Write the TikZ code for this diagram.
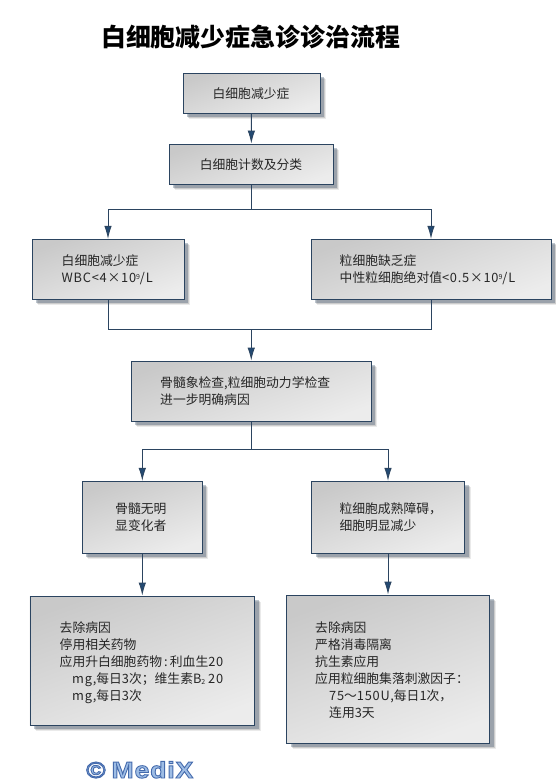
\documentclass[tikz,border=0pt]{standalone}
\usepackage{fontspec}
\setmainfont{Noto Sans CJK SC}
\newfontfamily\latinf[LetterSpace=4,FakeStretch=1.15]{Liberation Sans}
\newfontfamily\ltnf[LetterSpace=6]{Noto Sans CJK SC}
\newcommand{\ltn}[1]{{\ltnf #1}}
\usetikzlibrary{shadows,arrows.meta,calc}
\definecolor{edgeblue}{HTML}{2B4460}
\definecolor{tipblue}{HTML}{234A73}
\newcommand{\supnine}{\raisebox{0.45ex}{\scriptsize 9}}
\newcommand{\subtwo}{\raisebox{-0.2ex}{\scriptsize 2}}
\tikzset{
  boxnode/.style={draw=edgeblue,line width=0.9pt,inner sep=0pt,shading=axis,
    left color=gray!42!white,right color=gray!15!white,shading angle=20,
    drop shadow={shadow xshift=6pt,shadow yshift=-6pt,opacity=.10,fill=black!80},
    drop shadow={shadow xshift=5pt,shadow yshift=-5pt,opacity=.16,fill=black!80},
    drop shadow={shadow xshift=4pt,shadow yshift=-4pt,opacity=.30,fill=edgeblue}},
  txt/.style={font=\fontsize{12.8}{17}\selectfont,align=left,inner sep=0pt,anchor=west,text=black!85},
  ctxt/.style={font=\fontsize{12.8}{17}\selectfont,inner sep=0pt,text=black!85},
  conn/.style={draw=edgeblue,line width=0.9pt},
  arr/.style={conn,-{Latex[length=13pt,width=7.5pt,fill=tipblue]}},
}
\begin{document}
\begin{tikzpicture}[x=1pt,y=-1pt]
\useasboundingbox (0,0) rectangle (555,782);
\fill[white] (0,0) rectangle (555,782);
\node[font=\fontsize{24.9}{28}\selectfont\bfseries,inner sep=0pt,text=black] (title) at (250.5,36.5) {白细胞减少症急诊诊治流程};

\node[boxnode,minimum width=137pt,minimum height=40pt] (a) at (251.5,93) {};
\node[ctxt] (ta) at (251,94) {白细胞减少症};
\node[boxnode,minimum width=164pt,minimum height=40pt] (b) at (251.25,164) {};
\node[ctxt] (tb) at (251,165) {白细胞计数及分类};
\node[boxnode,minimum width=152pt,minimum height=60pt] (c) at (108,269.3) {};
\node[txt] (tc) at (61.5,269.8) {白细胞减少症\\\ltn{WBC<4×10\supnine/L}};
\node[boxnode,minimum width=240pt,minimum height=60pt] (d) at (431,269.3) {};
\node[txt] (td) at (339.5,269.8) {粒细胞缺乏症\\中性粒细胞绝对值\ltn{<0.5×10\supnine/L}};
\node[boxnode,minimum width=240pt,minimum height=60pt] (e) at (251.25,391) {};
\node[txt] (te) at (160,391.5) {骨髓象检查,粒细胞动力学检查\\进一步明确病因};
\node[boxnode,minimum width=120pt,minimum height=72pt] (f) at (142.3,517.3) {};
\node[txt] (tf) at (115,517.5) {骨髓无明\\显变化者};
\node[boxnode,minimum width=153pt,minimum height=72pt] (g) at (388,517.3) {};
\node[txt] (tg) at (339.3,517.5) {粒细胞成熟障碍，\\细胞明显减少};
\node[boxnode,minimum width=224.7pt,minimum height=129pt] (h) at (142.3,660.5) {};
\node[txt] (th) at (59.5,662.5) {去除病因\\停用相关药物\\应用升白细胞药物\,:\,利血生\ltn{20}\\\hspace*{12.5pt}\ltn{mg,}每日\ltn{3}次；维生素\ltn{B}\subtwo\ \ltn{20}\\\hspace*{12.5pt}\ltn{mg,}每日\ltn{3}次};
\node[boxnode,minimum width=203pt,minimum height=148pt] (i) at (388,669) {};
\node[txt] (ti) at (315,670.5) {去除病因\\严格消毒隔离\\抗生素应用\\应用粒细胞集落刺激因子：\\\hspace*{14pt}\ltn{75}～\ltn{150U,}每日\ltn{1}次，\\\hspace*{14pt}连用\ltn{3}天};

\coordinate (j1) at (b.south |- 0,209);
\coordinate (j2) at (e.north |- 0,329);
\coordinate (j3) at (e.south |- 0,449.3);

\draw[arr] (a) -- (b);
\draw[conn] (b) -- (j1);
\draw[arr] (j1) -| (c.north);
\draw[arr] (j1) -| (d.north);
\draw[conn] (c.south) |- (j2);
\draw[conn] (d.south) |- (j2);
\draw[arr] (j2) -- (e.north);
\draw[conn] (e) -- (j3);
\draw[arr] (j3) -| (f.north);
\draw[arr] (j3) -| (g.north);
\draw[arr] (f) -- (h.north -| f);
\draw[arr] (g) -- (i.north -| g);

\node[inner sep=0pt,anchor=base west,text={rgb,1:red,0.62;green,0.74;blue,0.9},font=\latinf\bfseries\fontsize{23}{25}\selectfont] (mark) at (86,778)
  {\special{pdf:literal direct 2 Tr 0.9 w 0.27 0.42 0.68 RG}©\hspace{6pt}MediX\special{pdf:literal direct 0 Tr}};
\end{tikzpicture}
\end{document}
